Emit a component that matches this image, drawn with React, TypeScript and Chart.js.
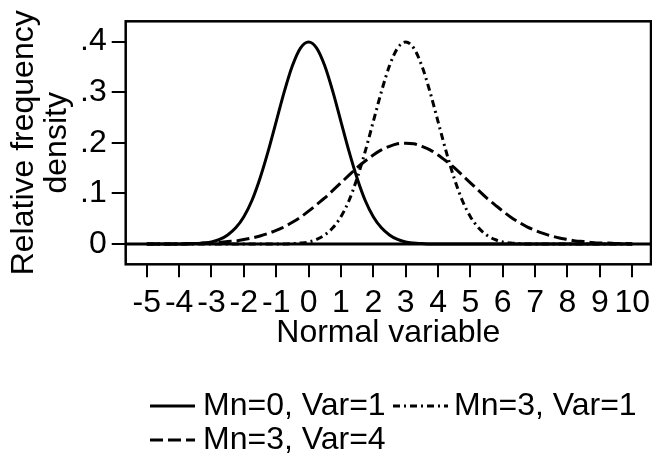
import React, { useEffect, useRef } from 'react';
import { Chart, registerables } from 'chart.js';

Chart.register(...registerables);

// ---------- data ----------
const X_VALUES = [
  -5, -4.75, -4.5, -4.25, -4, -3.75, -3.5, -3.25, -3, -2.75, -2.5, -2.25, -2, -1.75, -1.5, -1.25,
  -1, -0.75, -0.5, -0.25, 0, 0.25, 0.5, 0.75, 1, 1.25, 1.5, 1.75, 2, 2.25, 2.5, 2.75,
  3, 3.25, 3.5, 3.75, 4, 4.25, 4.5, 4.75, 5, 5.25, 5.5, 5.75, 6, 6.25, 6.5, 6.75,
  7, 7.25, 7.5, 7.75, 8, 8.25, 8.5, 8.75, 9, 9.25, 9.5, 9.75, 10,
];

const MN0_VAR1 = [
  0, 0, 0, 0, 0, 0, 0.001, 0.002, 0.004, 0.009, 0.018, 0.032, 0.054, 0.086, 0.13, 0.183,
  0.242, 0.301, 0.352, 0.387, 0.399, 0.387, 0.352, 0.301, 0.242, 0.183, 0.13, 0.086, 0.054, 0.032, 0.018, 0.009,
  0.004, 0.002, 0.001, 0, 0, 0, 0, 0, 0, 0, 0, 0, 0, 0, 0, 0,
  0, 0, 0, 0, 0, 0, 0, 0, 0, 0, 0, 0, 0,
];

const MN3_VAR1 = [
  0, 0, 0, 0, 0, 0, 0, 0, 0, 0, 0, 0, 0, 0, 0, 0,
  0, 0, 0.001, 0.002, 0.004, 0.009, 0.018, 0.032, 0.054, 0.086, 0.13, 0.183, 0.242, 0.301, 0.352, 0.387,
  0.399, 0.387, 0.352, 0.301, 0.242, 0.183, 0.13, 0.086, 0.054, 0.032, 0.018, 0.009, 0.004, 0.002, 0.001, 0,
  0, 0, 0, 0, 0, 0, 0, 0, 0, 0, 0, 0, 0,
];

const MN3_VAR4 = [
  0, 0, 0, 0, 0, 0.001, 0.001, 0.002, 0.002, 0.003, 0.005, 0.006, 0.009, 0.012, 0.016, 0.021,
  0.027, 0.034, 0.043, 0.053, 0.065, 0.078, 0.091, 0.106, 0.121, 0.136, 0.151, 0.164, 0.176, 0.186, 0.193, 0.198,
  0.199, 0.198, 0.193, 0.186, 0.176, 0.164, 0.151, 0.136, 0.121, 0.106, 0.091, 0.078, 0.065, 0.053, 0.043, 0.034,
  0.027, 0.021, 0.016, 0.012, 0.009, 0.006, 0.005, 0.003, 0.002, 0.002, 0.001, 0.001, 0,
];

const SERIES_LABELS = ['Mn=0, Var=1', 'Mn=3, Var=1', 'Mn=3, Var=4'];
const X_TICKS = [-5, -4, -3, -2, -1, 0, 1, 2, 3, 4, 5, 6, 7, 8, 9, 10];
const Y_TICKS = [0, 0.1, 0.2, 0.3, 0.4];
const X_TITLE = 'Normal variable';
const Y_TITLE = ['Relative frequency', 'density'];

// ---------- styling ----------
const FONT = "'Liberation Sans', Arial, Helvetica, sans-serif";
const FONT_SIZE = 32;
const DASHES: number[][] = [[], [7, 4, 2, 4], [13, 5]];

const framePlugin = {
  id: 'stataFrame',
  beforeDatasetsDraw(chart: any) {
    const { ctx, chartArea } = chart;
    const y0 = chart.scales.y.getPixelForValue(0);
    ctx.save();
    ctx.strokeStyle = '#000';
    ctx.lineWidth = 3;
    ctx.beginPath();
    ctx.moveTo(chartArea.left, y0);
    ctx.lineTo(chartArea.right, y0);
    ctx.stroke();
    ctx.restore();
  },
  afterDatasetsDraw(chart: any) {
    const { ctx, chartArea } = chart;
    ctx.save();
    ctx.strokeStyle = '#000';
    ctx.lineWidth = 2.5;
    ctx.strokeRect(chartArea.left, chartArea.top, chartArea.right - chartArea.left, chartArea.bottom - chartArea.top);
    ctx.restore();
  },
};

const legendPlugin = {
  id: 'stataLegend',
  afterDraw(chart: any) {
    const { ctx } = chart;
    const slots = [
      { x0: 150, x1: 195, tx: 203, y: 406 },
      { x0: 393, x1: 448, tx: 454, y: 406 },
      { x0: 150, x1: 195, tx: 203, y: 440 },
    ];
    ctx.save();
    chart.data.datasets.forEach((ds: any, i: number) => {
      const s = slots[i];
      ctx.strokeStyle = '#000';
      ctx.lineWidth = 3;
      ctx.setLineDash(ds.borderDash || []);
      ctx.beginPath();
      ctx.moveTo(s.x0, s.y);
      ctx.lineTo(s.x1, s.y);
      ctx.stroke();
      ctx.setLineDash([]);
      ctx.fillStyle = '#000';
      ctx.font = `${FONT_SIZE}px ${FONT}`;
      ctx.textAlign = 'left';
      ctx.textBaseline = 'middle';
      ctx.fillText(ds.label, s.tx, s.y);
    });
    ctx.restore();
  },
};

export default function App() {
  const canvasRef = useRef<HTMLCanvasElement | null>(null);

  useEffect(() => {
    if (!canvasRef.current) return;
    const seriesValues = [MN0_VAR1, MN3_VAR1, MN3_VAR4];
    const chart = new Chart(canvasRef.current, {
      type: 'line',
      data: {
        datasets: seriesValues.map((vals, i) => ({
          label: SERIES_LABELS[i],
          data: X_VALUES.map((x, j) => ({ x, y: vals[j] })),
          borderColor: '#000',
          borderWidth: 3,
          borderDash: DASHES[i],
          pointRadius: 0,
          fill: false,
          cubicInterpolationMode: 'monotone',
        })),
      },
      options: {
        responsive: false,
        animation: false,
        devicePixelRatio: 1,
        layout: { padding: { left: 0, right: 1, top: 21.3, bottom: 104.4 } },
        plugins: { legend: { display: false }, tooltip: { enabled: false } },
        scales: {
          x: {
            type: 'linear',
            min: -5.65,
            max: 10.58,
            afterBuildTicks: (s: any) => {
              s.ticks = X_TICKS.map((v) => ({ value: v }));
            },
            afterFit: (s: any) => {
              s.height = 88.3;
              s.paddingLeft = 0;
              s.paddingRight = 0;
            },
            grid: { display: true, drawOnChartArea: false, drawTicks: true, tickLength: 13, color: '#000', lineWidth: 2 },
            border: { display: false },
            ticks: {
              autoSkip: false,
              maxRotation: 0,
              minRotation: 0,
              padding: 7,
              color: '#000',
              font: { family: FONT, size: FONT_SIZE, lineHeight: 1.2 },
              callback: (v: any) => String(v),
            },
            title: { display: true, text: X_TITLE, color: '#000', font: { family: FONT, size: FONT_SIZE, lineHeight: 1.2 }, padding: 0 },
          },
          y: {
            type: 'linear',
            min: -0.04,
            max: 0.44,
            afterBuildTicks: (s: any) => {
              s.ticks = Y_TICKS.map((v) => ({ value: v }));
            },
            afterFit: (s: any) => {
              s.width = 125.7;
              s.paddingTop = 0;
              s.paddingBottom = 0;
            },
            grid: { display: true, drawOnChartArea: false, drawTicks: true, tickLength: 14, color: '#000', lineWidth: 2 },
            border: { display: false },
            ticks: {
              padding: 5,
              color: '#000',
              font: { family: FONT, size: FONT_SIZE, lineHeight: 1.2 },
              callback: (v: any) => (Number(v) === 0 ? '0' : Number(v).toFixed(1).replace(/^0/, '')),
            },
            title: {
              display: true,
              text: Y_TITLE,
              color: '#000',
              font: { family: FONT, size: FONT_SIZE, lineHeight: 1.03 },
              padding: { top: 8, bottom: 0 },
            },
          },
        },
      } as any,
      plugins: [framePlugin, legendPlugin],
    });
    return () => chart.destroy();
  }, []);

  return (
    <div style={{ position: 'fixed', left: 0, top: 0, width: 652, height: 457, background: '#fff' }}>
      <canvas ref={canvasRef} width={652} height={457} style={{ display: 'block' }} />
    </div>
  );
}
